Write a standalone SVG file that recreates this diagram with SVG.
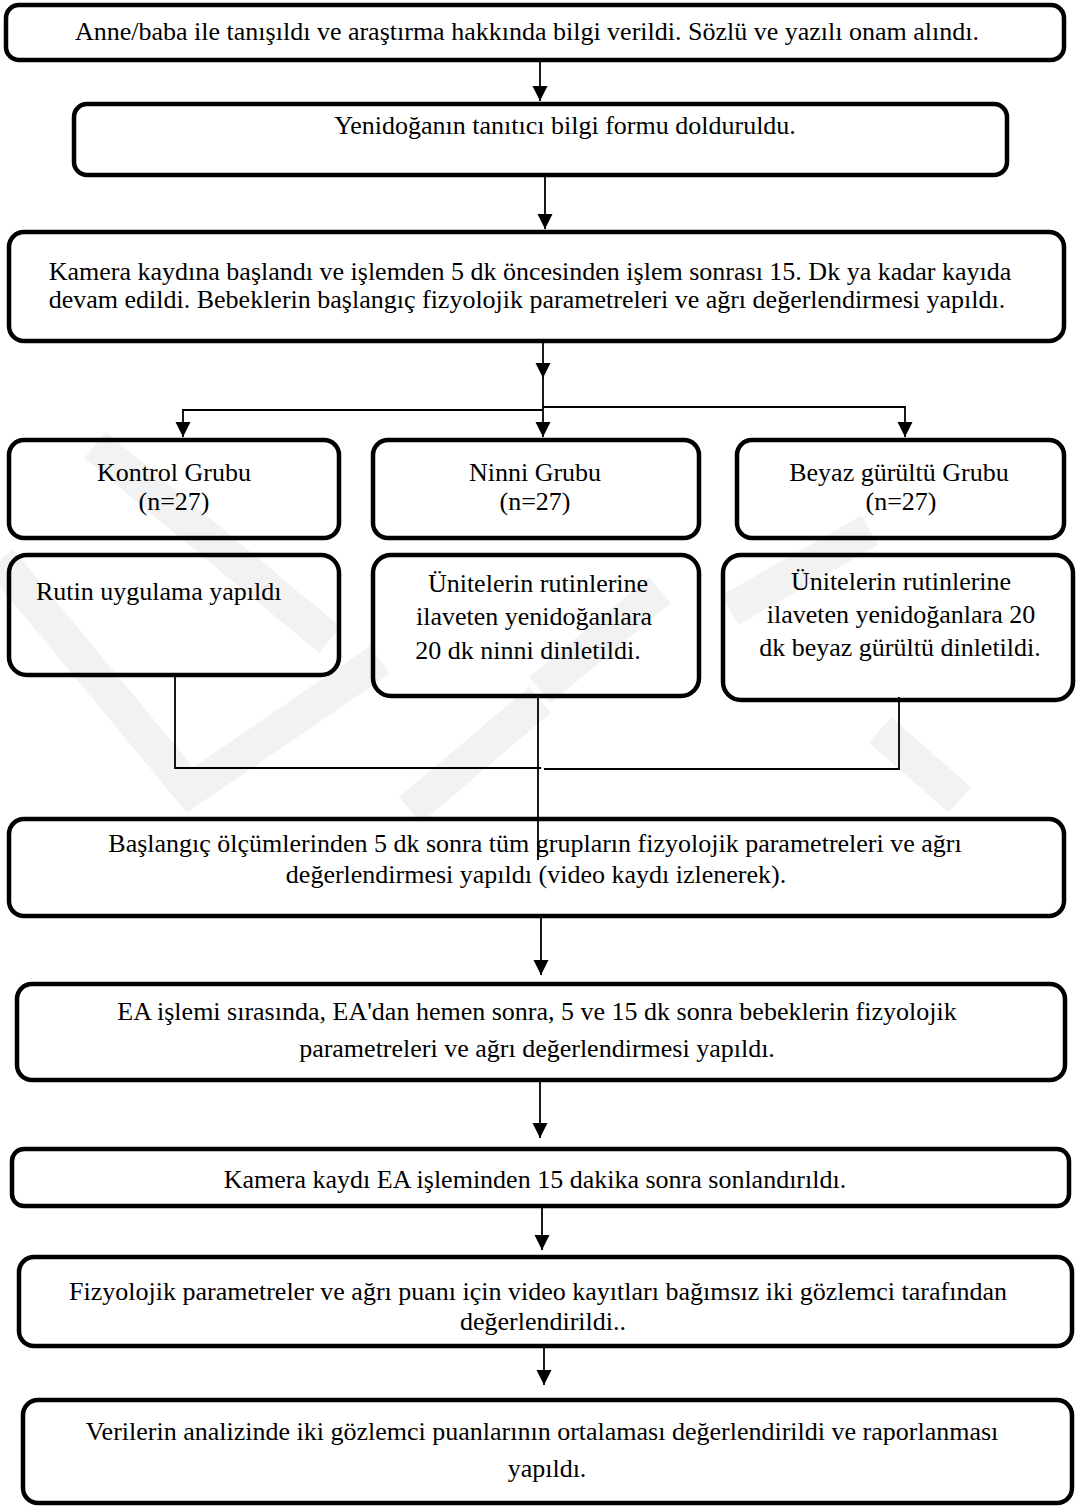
<svg xmlns="http://www.w3.org/2000/svg" width="1077" height="1508" viewBox="0 0 1077 1508">
<style>
.box{fill:#fff;stroke:#000;stroke-width:4.5}
.t{font-family:"Liberation Serif","Times New Roman",serif;font-size:26px;fill:#000;text-anchor:middle}
.ts{text-anchor:start}
.c{fill:none;stroke:#000;stroke-width:1.8}
.wm{fill:none;stroke:#000;stroke-opacity:0.05;stroke-width:34}
</style>
<defs>
<marker id="ah" markerUnits="userSpaceOnUse" markerWidth="16" markerHeight="16" viewBox="0 0 16 16" refX="15" refY="8" orient="auto">
<path d="M0,0.5 L15,8 L0,15.5 z" fill="#000"/>
</marker>
</defs>
<rect width="1077" height="1508" fill="#fff"/>

<g id="n1"><rect class="box" x="6" y="5" width="1058" height="55" rx="13"/>
<text class="t" x="527" y="40">Anne/baba ile tanışıldı ve araştırma hakkında bilgi verildi. Sözlü ve yazılı onam alındı.</text></g>

<g id="n2"><rect class="box" x="74" y="104" width="933" height="71" rx="13"/>
<text class="t" x="565" y="134">Yenidoğanın tanıtıcı bilgi formu dolduruldu.</text></g>

<g id="n3"><rect class="box" x="9" y="232" width="1055" height="109" rx="15"/>
<text class="t" x="530" y="280">Kamera kaydına başlandı ve işlemden 5 dk öncesinden işlem sonrası 15. Dk ya kadar kayıda</text>
<text class="t" x="527" y="308">devam edildi. Bebeklerin başlangıç fizyolojik parametreleri ve ağrı değerlendirmesi yapıldı.</text></g>

<g id="kontrol"><rect class="box" x="9" y="440" width="330" height="98" rx="15"/>
<text class="t" x="174" y="481">Kontrol Grubu</text>
<text class="t" x="174" y="510">(n=27)</text></g>

<g id="ninni"><rect class="box" x="373" y="440" width="326" height="98" rx="15"/>
<text class="t" x="535" y="481">Ninni Grubu</text>
<text class="t" x="535" y="510">(n=27)</text></g>

<g id="beyaz"><rect class="box" x="737" y="440" width="327" height="98" rx="15"/>
<text class="t" x="899" y="481">Beyaz gürültü Grubu</text>
<text class="t" x="901" y="510">(n=27)</text></g>

<g id="rutin"><rect class="box" x="9" y="555" width="330" height="120" rx="18"/>
<text class="t ts" x="36" y="600">Rutin uygulama yapıldı</text></g>

<g id="ninni2"><rect class="box" x="373" y="555" width="326" height="141" rx="18"/>
<text class="t" x="538" y="592">Ünitelerin rutinlerine</text>
<text class="t" x="534" y="625">ilaveten yenidoğanlara</text>
<text class="t" x="528" y="659">20 dk ninni dinletildi.</text></g>

<g id="beyaz2"><rect class="box" x="723" y="555" width="350" height="145" rx="18"/>
<text class="t" x="901" y="590">Ünitelerin rutinlerine</text>
<text class="t" x="901" y="623">ilaveten yenidoğanlara 20</text>
<text class="t" x="900" y="656">dk beyaz gürültü dinletildi.</text></g>

<g id="n4"><rect class="box" x="9" y="819" width="1055" height="97" rx="15"/>
<text class="t" x="535" y="852">Başlangıç ölçümlerinden 5 dk sonra tüm grupların fizyolojik parametreleri ve ağrı</text>
<text class="t" x="536" y="883">değerlendirmesi yapıldı (video kaydı izlenerek).</text></g>

<g id="n5"><rect class="box" x="17" y="984" width="1048" height="96" rx="15"/>
<text class="t" x="537" y="1020">EA işlemi sırasında, EA'dan hemen sonra, 5 ve 15 dk sonra bebeklerin fizyolojik</text>
<text class="t" x="537" y="1057">parametreleri ve ağrı değerlendirmesi yapıldı.</text></g>

<g id="n6"><rect class="box" x="12" y="1149" width="1057" height="57" rx="12"/>
<text class="t" x="535" y="1188">Kamera kaydı EA işleminden 15 dakika sonra sonlandırıldı.</text></g>

<g id="n7"><rect class="box" x="19" y="1257" width="1053" height="89" rx="15"/>
<text class="t" x="538" y="1300">Fizyolojik parametreler ve ağrı puanı için video kayıtları bağımsız iki gözlemci tarafından</text>
<text class="t" x="543" y="1330">değerlendirildi..</text></g>

<g id="n8"><rect class="box" x="23" y="1400" width="1049" height="103" rx="15"/>
<text class="t" x="542" y="1440">Verilerin analizinde iki gözlemci puanlarının ortalaması değerlendirildi ve raporlanması</text>
<text class="t" x="547" y="1477">yapıldı.</text></g>

<g id="watermark">
<path class="wm" d="M0,560 L190,790 L380,660"/>
<path class="wm" d="M95,445 L330,640"/>
<path class="wm" d="M410,810 L540,700"/>
<path class="wm" d="M540,690 L660,590"/>
<path class="wm" d="M730,610 L870,530"/>
<path class="wm" d="M880,730 L960,800"/>
</g>

<g id="connectors">
<path class="c" d="M540,62 V101" marker-end="url(#ah)"/>
<path class="c" d="M545,177 V229" marker-end="url(#ah)"/>
<path class="c" d="M543,343 V378" marker-end="url(#ah)"/>
<path class="c" d="M543,378 V410"/>
<path class="c" d="M543,410 H183 V437" marker-end="url(#ah)"/>
<path class="c" d="M543,410 V437" marker-end="url(#ah)"/>
<path class="c" d="M543,407 H905 V437" marker-end="url(#ah)"/>
<path class="c" d="M175,673 V768 H541"/>
<path class="c" d="M544,769 H899 V697"/>
<path class="c" d="M538,698 V860"/>
<path class="c" d="M541,918 V975" marker-end="url(#ah)"/>
<path class="c" d="M540,1082 V1138" marker-end="url(#ah)"/>
<path class="c" d="M542,1208 V1250" marker-end="url(#ah)"/>
<path class="c" d="M544,1348 V1385" marker-end="url(#ah)"/>
</g>
</svg>
